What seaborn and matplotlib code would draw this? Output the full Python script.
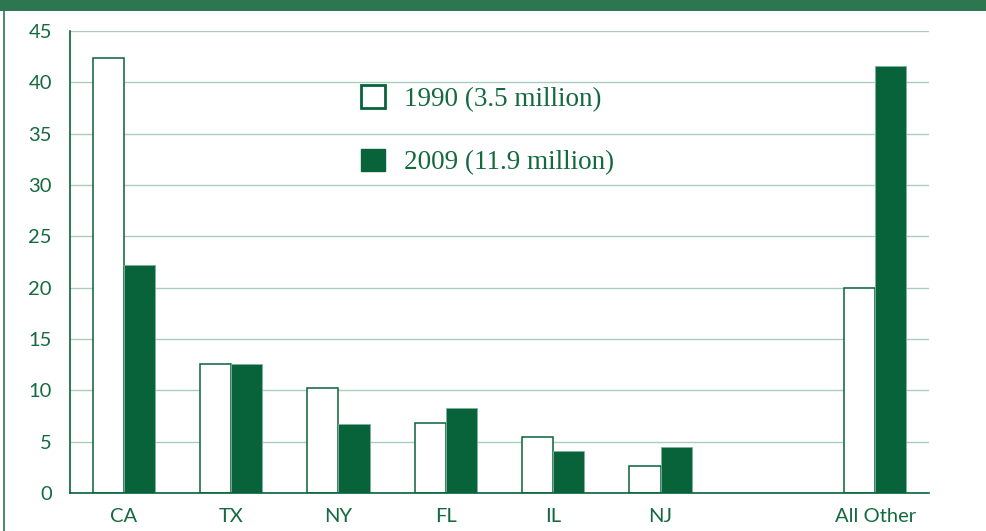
import numpy as np
import pandas as pd
import matplotlib
matplotlib.use('Agg')
import matplotlib.pyplot as plt
import seaborn as sns
from matplotlib.patches import Rectangle
from matplotlib.lines import Line2D
from matplotlib.ticker import FixedLocator

states = ['CA', 'TX', 'NY', 'FL', 'IL', 'NJ', '', 'All Other']
share_1990 = [42.4, 12.6, 10.2, 6.8, 5.5, 2.6, np.nan, 20.0]
share_2009 = [22.2, 12.6, 6.7, 8.3, 4.1, 4.5, np.nan, 41.6]
labels = ['1990 (3.5 million)', '2009 (11.9 million)']

df = pd.DataFrame({
    'state': states * 2,
    'year': [labels[0]] * len(states) + [labels[1]] * len(states),
    'share': share_1990 + share_2009,
})

dark = '#08623a'
text_green = '#146a3e'
grid_green = '#a9cdbd'

sns.set_style('white')
plt.rcParams['font.family'] = ['Lato', 'DejaVu Sans']

fig = plt.figure(figsize=(9.87, 5.31), dpi=100)
ax = fig.add_axes([70 / 987, 38 / 531, 859 / 987, 462 / 531])

sns.barplot(data=df, x='state', y='share', hue='year', order=states,
            hue_order=labels, palette=['white', dark], width=0.58,
            ax=ax, legend=False)

# 1990 = outlined, 2009 = solid
for bar in ax.containers[0]:
    bar.set_facecolor('white')
    bar.set_edgecolor(dark)
    bar.set_linewidth(1.1)
for bar in ax.containers[1]:
    bar.set_facecolor(dark)
    bar.set_edgecolor('#7fb39a')
    bar.set_linewidth(0.6)

ax.set_xlim(-0.5, len(states) - 0.5)
ax.set_ylim(0, 45)
ax.set_yticks(range(0, 46, 5))
ax.yaxis.grid(True, color=grid_green, lw=1)
ax.set_axisbelow(True)
ax.set_xlabel('')
ax.set_ylabel('')

for side in ['top', 'right']:
    ax.spines[side].set_visible(False)
for side in ['left', 'bottom']:
    ax.spines[side].set_color(dark)
    ax.spines[side].set_linewidth(1.2)

ax.xaxis.set_minor_locator(FixedLocator(np.arange(-0.5, len(states), 1)))
ax.tick_params(axis='x', which='major', length=0, pad=11, labelsize=14.5, colors=text_green)
ax.tick_params(axis='x', which='minor', length=7, width=1.2, color=dark, direction='out')
ax.tick_params(axis='y', length=7, width=1.2, color=dark, direction='out',
               labelsize=14.5, labelcolor=text_green, pad=6)

handles = [Rectangle((0, 0), 1, 1, facecolor='white', edgecolor=dark, lw=2),
           Rectangle((0, 0), 1, 1, facecolor=dark, edgecolor=dark, lw=1)]
leg = ax.legend(handles, labels, loc='upper left', bbox_to_anchor=(0.3225, 0.912),
                frameon=False, prop={'family': 'Liberation Serif', 'size': 19.5},
                handlelength=0.9, handleheight=0.9, handletextpad=0.7,
                labelspacing=1.37, borderpad=0)
for t in leg.get_texts():
    t.set_color(text_green)

# green header band and left frame line
fig.patches.append(Rectangle((0, 1 - 11 / 531), 1, 11 / 531, transform=fig.transFigure,
                             facecolor='#2c7650', edgecolor='none'))
fig.lines.append(Line2D([4.5 / 987, 4.5 / 987], [0, 1], transform=fig.transFigure,
                        color='#2c7650', lw=1.2))

fig.savefig('out.png', dpi=100)
